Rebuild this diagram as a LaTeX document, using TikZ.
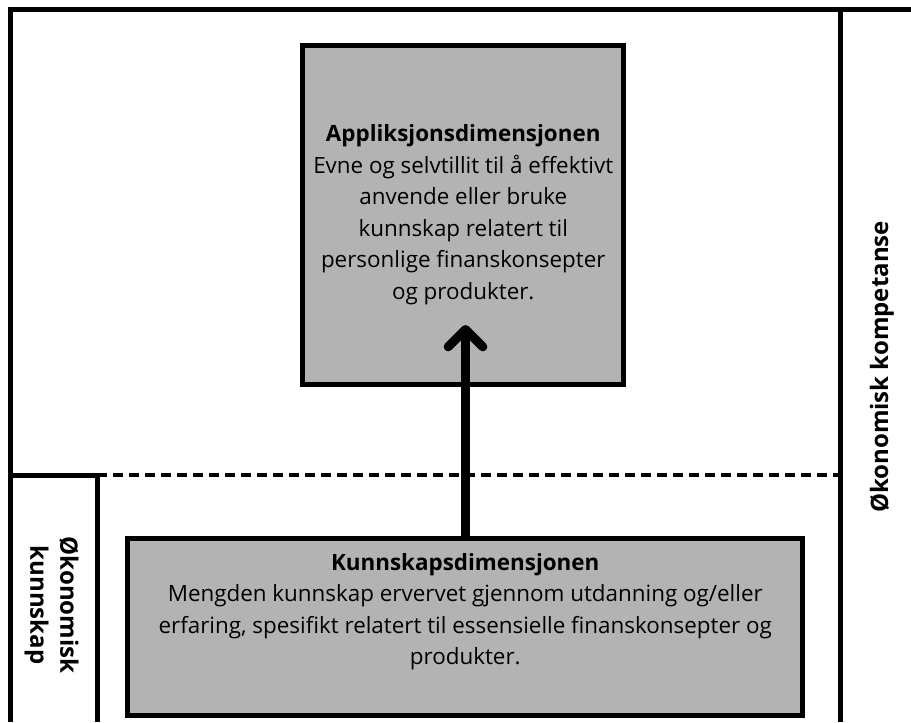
\documentclass[tikz,border=0pt]{standalone}
\usepackage{fontspec}
\setmainfont{Open Sans}
\usetikzlibrary{arrows.meta}
\definecolor{boxgray}{RGB}{179,179,179}
\begin{document}
\begin{tikzpicture}[x=0.75pt,y=-0.75pt,
	frameline/.style={line width=3.75pt},
	dimbox/.style={draw,line width=3.75pt,fill=boxgray,inner sep=0pt},
	dimtext/.style={align=center,font=\fontsize{16.8}{23.6}\selectfont},
	sidelabel/.style={align=center,font=\fontsize{18}{22.5}\selectfont\bfseries}]
	\useasboundingbox (0,0) rectangle (911,722);
	\draw[frameline] (911,9) -- (10,9) -- (10,722);
	\draw[frameline] (840,9) -- (840,722);
	\draw[frameline] (10,475) -- (97,475) -- (97,722);
	\draw[line width=3pt,dash pattern=on 7.5pt off 4.5pt] (97,475) -- (840,475);
	\node[dimbox,dimtext,minimum width=240.4pt,minimum height=254.6pt] (appl) at (463.25,214.75)
		{\textbf{Appliksjonsdimensjonen}\\Evne og selvtillit til å effektivt\\anvende eller bruke\\kunnskap relatert til\\personlige finanskonsepter\\og produkter.};
	\node[dimbox,minimum width=505.9pt,minimum height=132.75pt] (kunn) at (465.25,626.5) {};
	\node[dimtext] (kunntext) at (465.25,611.5)
		{\textbf{Kunnskapsdimensjonen}\\Mengden kunnskap ervervet gjennom utdanning og/eller\\erfaring, spesifikt relatert til essensielle finanskonsepter og\\produkter.};
	\coordinate (tip) at (465.5,325);
	\draw[line width=6.75pt,-{Straight Barb[length=13pt,width=26pt,line cap=round,line join=round]}] (kunn.north -| tip) -- (tip);
	\node[sidelabel,rotate=90] (kompetanse) at (882,367) {Økonomisk kompetanse};
	\node[sidelabel,rotate=-90] (kunnskap) at (51.5,605) {Økonomisk\\kunnskap};
\end{tikzpicture}
\end{document}
